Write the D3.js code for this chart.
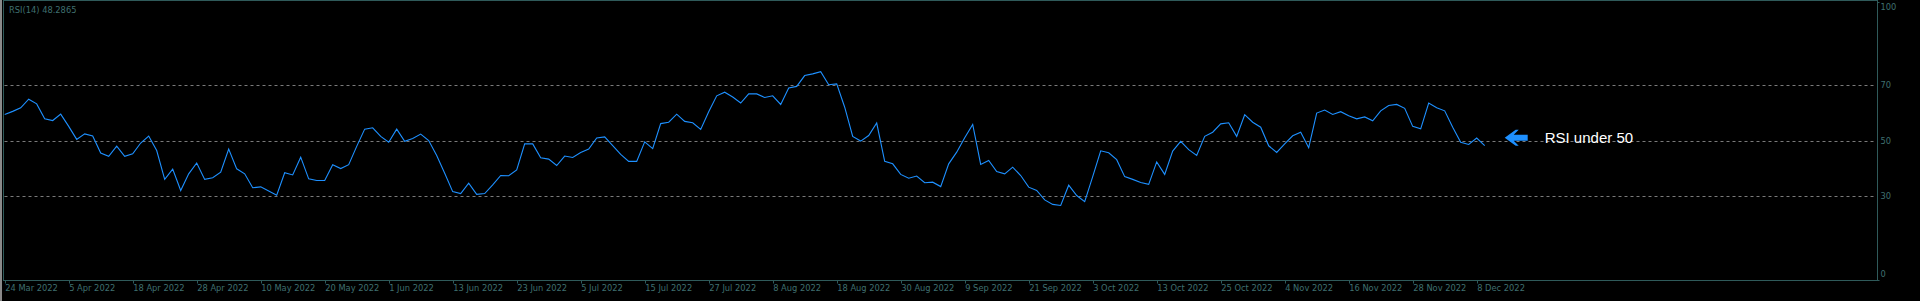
<!DOCTYPE html>
<html>
<head>
<meta charset="utf-8">
<script src="https://cdn.jsdelivr.net/npm/d3@7"></script>
<style>
  html, body { margin: 0; padding: 0; background: #000; overflow: hidden; }
  svg { display: block; }
</style>
</head>
<body>
<svg id="chart" width="1920" height="301"></svg>
<script>
// ---- data ----
const title = "RSI(14) 48.2865";
const rsiValues = [
  59.5, 60.6, 61.9, 65.0, 63.3, 57.9, 57.3, 59.6, 55.2, 50.5,
  52.5, 51.7, 45.6, 44.4, 48.1, 44.4, 45.3, 49.2, 51.7, 46.5,
  36.1, 39.8, 32.1, 38.1, 42.0, 36.1, 36.7, 38.7, 47.0, 39.9,
  38.1, 33.1, 33.4, 31.9, 30.4, 38.5, 37.7, 44.1, 36.3, 35.7,
  35.7, 41.4, 40.0, 41.4, 48.0, 54.2, 54.7, 51.6, 49.5, 54.2,
  49.8, 50.8, 52.4, 50.1, 44.7, 38.3, 31.7, 31.0, 34.7, 30.7,
  31.0, 34.1, 37.5, 37.4, 39.5, 48.9, 48.9, 43.9, 43.4, 41.1,
  44.5, 44.0, 45.8, 47.0, 51.0, 51.4, 48.3, 45.1, 42.6, 42.6,
  49.6, 47.2, 56.2, 56.7, 59.6, 57.0, 56.5, 54.1, 60.5, 66.2,
  67.5, 65.8, 63.6, 66.9, 66.9, 65.6, 66.2, 63.1, 69.0, 69.6,
  73.5, 74.1, 74.9, 70.2, 70.5, 62.1, 51.6, 49.9, 51.9, 56.4,
  42.6, 41.7, 37.9, 36.5, 37.3, 34.9, 35.1, 33.5, 41.7, 45.9,
  51.1, 55.9, 41.5, 42.9, 38.9, 38.1, 40.5, 37.5, 33.3, 32.1,
  28.7, 27.1, 26.7, 34.0, 30.3, 28.1, 37.1, 46.4, 45.7, 43.2,
  37.1, 36.1, 35.0, 34.3, 42.4, 37.9, 46.3, 49.8, 46.8, 44.7,
  51.6, 53.1, 56.1, 56.5, 51.6, 59.4, 56.7, 54.9, 48.2, 45.8,
  48.9, 51.8, 53.1, 47.5, 60.0, 61.1, 59.5, 60.5, 59.0, 57.9,
  58.6, 57.2, 60.8, 62.7, 63.1, 61.7, 55.2, 54.3, 63.6, 61.9,
  60.8, 54.9, 49.5, 48.7, 51.0, 48.29
];
const xTickLabels = [
  "24 Mar 2022", "5 Apr 2022", "18 Apr 2022", "28 Apr 2022", "10 May 2022",
  "20 May 2022", "1 Jun 2022", "13 Jun 2022", "23 Jun 2022", "5 Jul 2022",
  "15 Jul 2022", "27 Jul 2022", "8 Aug 2022", "18 Aug 2022", "30 Aug 2022",
  "9 Sep 2022", "21 Sep 2022", "3 Oct 2022", "13 Oct 2022", "25 Oct 2022",
  "4 Nov 2022", "16 Nov 2022", "28 Nov 2022", "8 Dec 2022"
];
const barsPerLabel = 8;
const levels = [70, 50, 30];
const yTickValues = [100, 70, 50, 30, 0];
const annotation = "RSI under 50";
const annotationLevel = 50;

// ---- layout ----
const svg = d3.select("#chart");
const W = 1920, H = 301;
const frame = { left: 3.5, right: 1877.5, top: 0.5, bottom: 280.5 };
const textColor = "#3f6f6f";
const borderColor = "#2f5a5a";
const fontFamily = "'DejaVu Sans', sans-serif";

const x = d3.scaleLinear().domain([0, 185]).range([4.7, 4.7 + 8 * 185]);
const y = d3.scaleLinear().domain([0, 100]).range([279.6, 2.0]);

// window edge (grey)
svg.append("rect").attr("x", 0).attr("y", 0).attr("width", 2).attr("height", H).attr("fill", "#8a8a8a");

// level lines
svg.append("g").selectAll("line").data(levels).join("line")
  .attr("x1", frame.left + 1).attr("x2", frame.right - 1)
  .attr("y1", d => Math.round(y(d)) + 0.5).attr("y2", d => Math.round(y(d)) + 0.5)
  .attr("stroke", "#7a7a7a").attr("stroke-width", 1).attr("stroke-dasharray", "3,3");

// frame
svg.append("rect")
  .attr("x", frame.left).attr("y", frame.top)
  .attr("width", frame.right - frame.left).attr("height", frame.bottom - frame.top)
  .attr("fill", "none").attr("stroke", borderColor).attr("stroke-width", 1);

// RSI line
const line = d3.line().x((d, i) => x(i)).y(d => y(d));
svg.append("path").datum(rsiValues)
  .attr("d", line).attr("fill", "none")
  .attr("stroke", "#1E90FF").attr("stroke-width", 1.1);

// x axis
const xTickIdx = xTickLabels.map((d, i) => i * barsPerLabel);
const xAxis = d3.axisBottom(x)
  .tickValues(xTickIdx)
  .tickFormat((d, i) => xTickLabels[i])
  .tickSize(3).tickPadding(2).tickSizeOuter(0);
const gx = svg.append("g").attr("transform", `translate(0,${frame.bottom})`).call(xAxis);
gx.select(".domain").remove();
gx.selectAll(".tick line").attr("stroke", borderColor).attr("transform", "translate(0.3,0)");
gx.selectAll(".tick text")
  .attr("text-anchor", "start").attr("x", 0).attr("y", 5)
  .attr("fill", textColor).attr("font-family", fontFamily).attr("font-size", "8.3px");

// y axis (right)
const yAxis = d3.axisRight(y).tickValues(yTickValues).tickFormat(d3.format("d"))
  .tickSize(0).tickPadding(3);
const gy = svg.append("g").attr("transform", `translate(${frame.right},0)`).call(yAxis);
gy.select(".domain").remove();
gy.selectAll(".tick text")
  .attr("fill", textColor).attr("font-family", fontFamily).attr("font-size", "8.3px")
  .attr("dy", d => d === 100 ? "0.95em" : d === 0 ? "-0.35em" : "0.32em");
// small ticks at 100 and 0
svg.append("g").selectAll("line").data([100, 0]).join("line")
  .attr("x1", frame.right).attr("x2", frame.right + 2)
  .attr("y1", d => Math.round(y(d)) + 0.5).attr("y2", d => Math.round(y(d)) + 0.5)
  .attr("stroke", borderColor);

// title
svg.append("text").attr("x", 9).attr("y", 13)
  .attr("fill", textColor).attr("font-family", fontFamily).attr("font-size", "8.3px")
  .text(title);

// annotation arrow + text
const ay = y(annotationLevel) - 3;
const ax = x(185) + 20;
const g = svg.append("g").attr("transform", `translate(${ax},${ay})`);
g.append("path")
  .attr("d", "M0,0 L11,-8 L14,-8 L9,-3 L23,-3 L23,3 L9,3 L14,8 L11,8 Z")
  .attr("fill", "#1E90FF");
svg.append("text").attr("x", ax + 40).attr("y", ay + 5.5)
  .attr("fill", "#ffffff").attr("font-family", "'Liberation Sans', Arial, sans-serif")
  .attr("font-size", "15px").text(annotation);
</script>
</body>
</html>
